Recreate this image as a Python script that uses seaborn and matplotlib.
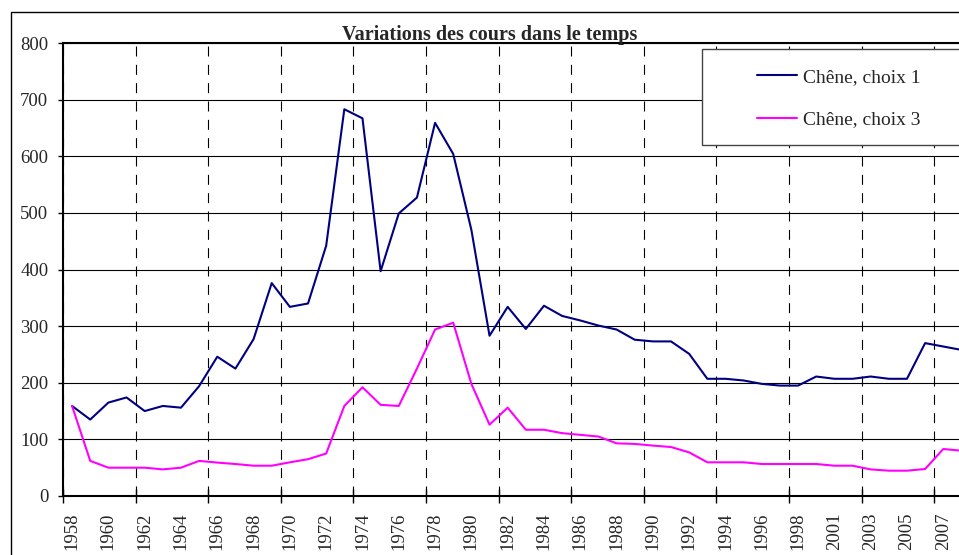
import matplotlib
matplotlib.use("Agg")
import matplotlib.pyplot as plt
from matplotlib.patches import Rectangle
import seaborn as sns
import pandas as pd
import numpy as np

# ---------------- data ----------------
years = [1958, 1959, 1960, 1961, 1962, 1963, 1964, 1965, 1966, 1967,
         1968, 1969, 1970, 1971, 1972, 1973, 1974, 1975, 1976, 1977,
         1978, 1979, 1980, 1981, 1982, 1983, 1984, 1985, 1986, 1987,
         1988, 1989, 1990, 1991, 1992, 1993, 1994, 1995, 1996, 1997,
         1998, 1999, 2001, 2002, 2003, 2004, 2005, 2006, 2007, 2008]

choix1 = [159, 135, 165, 174, 150, 159, 156, 194, 246, 225,
          277, 376, 334, 340, 442, 683, 667, 397, 499, 527,
          659, 604, 470, 283, 334, 295, 336, 318, 310, 301,
          294, 276, 273, 273, 251, 207, 207, 204, 198, 195,
          195, 211, 207, 207, 211, 207, 207, 270, 264, 258]

choix3 = [159, 62, 50, 50, 50, 47, 50, 62, 59, 56.5,
          53.5, 53.5, 59.5, 65, 75, 159, 192, 161, 159, 225,
          294, 306, 198, 126, 156, 117, 117, 111, 108, 105,
          93, 92, 89, 86.5, 77, 59.5, 59.5, 59.5, 56.5, 56.5,
          56.5, 56.5, 53.5, 53.5, 47, 44.7, 44.7, 47.7, 83, 80]

series_names = ["Chêne, choix 1", "Chêne, choix 3"]
series_colors = ["#000080", "#FF00FF"]
title = "Variations des cours dans le temps"
y_ticks = [0, 100, 200, 300, 400, 500, 600, 700, 800]

# ---------------- figure ----------------
sns.set_style("white")
plt.rcParams["font.family"] = ["Liberation Serif", "DejaVu Serif"]

W, H = 959, 555
fig = plt.figure(figsize=(W / 100, H / 100), dpi=100)
fig.patch.set_facecolor("white")

pos = list(range(len(years)))
df = pd.DataFrame({
    "pos": pos * 2,
    "value": choix1 + choix3,
    "serie": [series_names[0]] * len(years) + [series_names[1]] * len(years),
})

px_per_cat = 18.15
left_px, top_px, bottom_px = 63, 43, 496
ax = fig.add_axes([left_px / W, (H - bottom_px) / H, (W - left_px) / W,
                   (bottom_px - top_px) / H])
ax.set_facecolor("white")

sns.lineplot(data=df, x="pos", y="value", hue="serie",
             palette=dict(zip(series_names, series_colors)),
             linewidth=1.5, ax=ax, legend=True, zorder=4)

x_max = -0.5 + (W - left_px) / px_per_cat
ax.set_xlim(-0.5, x_max)
ax.set_ylim(0, 800)
ax.set_xlabel("")
ax.set_ylabel("")

# y axis
ax.set_yticks(y_ticks)
ax.set_yticklabels([str(v) for v in y_ticks])
ax.tick_params(axis="y", which="major", direction="out", length=3.6, width=1,
               color="black", pad=7, labelsize=13.5, left=True)
ax.yaxis.grid(True, color="black", linewidth=0.8)

# x axis: boundaries every 4 categories (ticks + dashed grid), labels every 2
bounds = [b - 0.5 for b in range(0, len(years), 4)]
ax.set_xticks(bounds)
ax.set_xticklabels([""] * len(bounds))
ax.tick_params(axis="x", which="major", direction="inout", length=9.4,
               width=1, color="black", bottom=True)
ax.xaxis.grid(True, which="major", color="black", linewidth=0.8,
              linestyle=(0, (9, 7.5)))
lab_pos = pos[::2]
ax.set_xticks(lab_pos, minor=True)
ax.set_xticklabels([str(years[i]) for i in lab_pos], minor=True, rotation=90)
ax.tick_params(axis="x", which="minor", length=0, pad=12, labelsize=13.5)

for side in ["left", "top", "bottom"]:
    ax.spines[side].set_visible(True)
    ax.spines[side].set_color("black")
    ax.spines[side].set_linewidth(1.5)
ax.spines["right"].set_visible(False)
ax.set_axisbelow(True)

# legend
handles, labels = ax.get_legend_handles_labels()
ax.get_legend().remove()
fig.add_artist(Rectangle((702 / W, 1 - 145 / H), 0.5, 96 / H,
                         transform=fig.transFigure, facecolor="white",
                         edgecolor="#444444", linewidth=1, zorder=3))
fig.legend(handles, labels, loc="upper left",
           bbox_to_anchor=(757 / W, 1 - 68 / H), bbox_transform=fig.transFigure,
           frameon=False, borderpad=0, borderaxespad=0,
           handlelength=2.05, handletextpad=0.3, labelspacing=1.3,
           prop={"family": "Liberation Serif", "size": 14})

# outer chart border
fig.add_artist(Rectangle((11 / W, -0.5), 2, 1.5 - 12 / H,
                         transform=fig.transFigure, facecolor="none",
                         edgecolor="black", linewidth=1, zorder=0))

# title
fig.text(490 / W, 1 - 40 / H, title, ha="center", va="baseline",
         fontsize=14.5, fontweight="bold", family="Liberation Serif")

fig.savefig("out.png", dpi=100)
